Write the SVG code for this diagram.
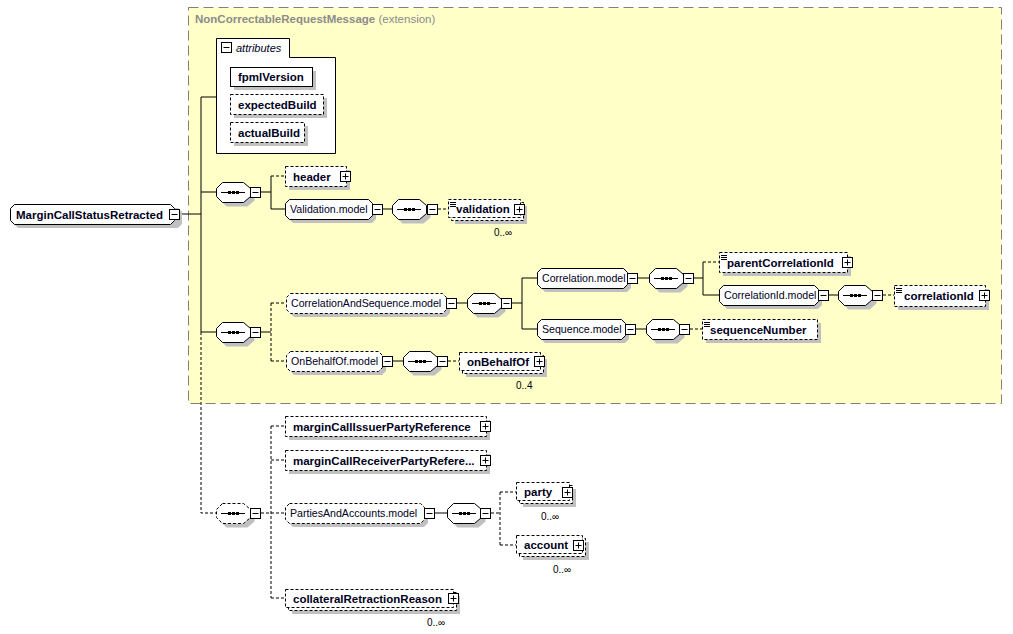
<svg xmlns="http://www.w3.org/2000/svg" xmlns:xlink="http://www.w3.org/1999/xlink" width="1013" height="634" viewBox="0 0 1013 634">
<style>
text{font-family:"Liberation Sans",Arial,sans-serif;fill:#000022}
.el{font-size:11.5px;font-weight:bold}
.md{font-size:10.6px}
.occ{font-size:10px;fill:#000}
.sh{fill:#c0c0c0;stroke:none}
.bx{fill:#fff;stroke:#000;stroke-width:1}
.dash{stroke-dasharray:3,2}
.cn{fill:none;stroke:#000;stroke-width:1}
</style>
<defs>
<g id="minus"><rect x="0.5" y="0.5" width="10" height="10" fill="#fff" stroke="#000"/><path d="M2.5,5.5H8.5" stroke="#000"/></g>
<g id="plus"><rect x="0.5" y="0.5" width="10" height="10" fill="#fff" stroke="#000"/><path d="M2.5,5.5H8.5M5.5,2.5V8.5" stroke="#000"/></g>
<g id="seqicon"><path d="M5,10.5H29" stroke="#000"/><rect x="12" y="9" width="3" height="3" fill="#000"/><rect x="16" y="9" width="3" height="3" fill="#000"/><rect x="20" y="9" width="3" height="3" fill="#000"/></g>
<g id="simple"><path d="M0,0.5H6M0,2.5H6M0,4.5H6" stroke="#000" stroke-width="1"/></g>
<polygon id="seqshape" points="6.5,0.5 27.5,0.5 34.5,6.5 34.5,14.5 27.5,20.5 6.5,20.5 0.5,14.5 0.5,6.5"/>
</defs>

<g id="extension-box">
<rect x="188.5" y="7.5" width="813" height="396" fill="#ffffc8" stroke="#808080" stroke-dasharray="10,5"/>
<text x="195" y="23" style="font-size:11.5px;font-weight:bold;fill:#8c8c8c">NonCorrectableRequestMessage <tspan style="font-weight:normal">(extension)</tspan></text>
</g>

<g id="connectors" class="cn">
<path d="M180,214H201M201,97V332M201,97H216M201,192H216M201,332H216"/>
<path class="dash" d="M201,332V513H216"/>
<path d="M261,192H271M271,176V209M271,209H285"/>
<path class="dash" d="M271,176H285"/>
<path d="M383,209H392"/>
<path class="dash" d="M438,209H448"/>
<path d="M261,332H271"/>
<path class="dash" d="M271,303V361M271,303H286M271,361H286"/>
<path d="M457,303H467M512,303H522M522,278V329M522,278H537M522,329H537"/>
<path d="M638,278H649M694,278H703M703,262V295M703,295H719"/>
<path class="dash" d="M703,262H719"/>
<path d="M829,295H838"/>
<path class="dash" d="M883,295H894"/>
<path d="M636,329H646"/>
<path class="dash" d="M690,329H702"/>
<path d="M393,361H403"/>
<path class="dash" d="M448,361H459"/>
<path class="dash" d="M261,513H271M271,426V598M271,426H285M271,460H285M271,513H285M271,598H285"/>
<path d="M435,513H447"/>
<path class="dash" d="M491,513H500M500,492V545M500,492H516M500,545H516"/>
</g>

<g id="attributes">
<path class="bx" d="M216.5,153.5V38.5H289.5V57.5H335.5V153.5Z"/>
<use xlink:href="#minus" x="221" y="42"/>
<text x="236" y="52" style="font-size:11px;font-style:italic">attributes</text>
</g>
<g id="fpmlVersion">
<rect class="sh" x="234" y="71" width="82" height="19"/>
<rect class="bx" x="230.5" y="67.5" width="82" height="19"/>
<text class="el" x="238" y="81">fpmlVersion</text>
</g>
<g id="expectedBuild">
<rect class="sh" x="234" y="98" width="93" height="20"/>
<rect class="bx dash" x="230.5" y="94.5" width="93" height="20"/>
<text class="el" x="238" y="109">expectedBuild</text>
</g>
<g id="actualBuild">
<rect class="sh" x="234" y="126" width="74" height="20"/>
<rect class="bx dash" x="230.5" y="122.5" width="74" height="20"/>
<text class="el" x="238" y="137">actualBuild</text>
</g>

<g id="MarginCallStatusRetracted">
<polygon class="sh" points="18,208 178,208 182,212 182,224 178,228 18,228 14,224 14,212"/>
<polygon class="bx" points="14.5,204.5 170.5,204.5 174.5,208.5 174.5,220.5 170.5,224.5 14.5,224.5 10.5,220.5 10.5,208.5"/>
<text class="el" x="16" y="219">MarginCallStatusRetracted</text>
<use xlink:href="#minus" x="169" y="209"/>
</g>

<g id="seq1">
<use xlink:href="#seqshape" x="220" y="186" class="sh"/>
<use xlink:href="#seqshape" x="216" y="182" class="bx"/>
<use xlink:href="#seqicon" x="216" y="182"/>
<use xlink:href="#minus" x="250" y="187"/>
</g>
<g id="header">
<rect class="sh" x="289" y="170" width="61" height="20"/>
<rect class="bx dash" x="285.5" y="166.5" width="61" height="20"/>
<text class="el" x="293" y="181">header</text>
<use xlink:href="#plus" x="340" y="171"/>
</g>
<g id="Validation.model">
<polygon class="sh" points="293,203 372,203 376,207 376,219 372,223 293,223 289,219 289,207"/>
<polygon class="bx" points="289.5,199.5 368.5,199.5 372.5,203.5 372.5,215.5 368.5,219.5 289.5,219.5 285.5,215.5 285.5,203.5"/>
<text class="md" x="290" y="213">Validation.model</text>
<use xlink:href="#minus" x="372" y="204"/>
</g>
<g id="seq-validation">
<use xlink:href="#seqshape" x="396" y="203" class="sh"/>
<use xlink:href="#seqshape" x="392" y="199" class="bx"/>
<use xlink:href="#seqicon" x="392" y="199"/>
<use xlink:href="#minus" x="427" y="204"/>
</g>
<g id="validation">
<rect class="sh" x="455" y="206" width="72" height="18"/>
<rect class="bx dash" x="451.5" y="202.5" width="72" height="18"/>
<rect class="bx dash" x="448.5" y="199.5" width="72" height="18"/>
<use xlink:href="#simple" x="450" y="202"/>
<text class="el" x="456" y="213">validation</text>
<use xlink:href="#plus" x="514" y="204"/>
<text class="occ" x="494" y="236">0..∞</text>
</g>

<g id="seq2">
<use xlink:href="#seqshape" x="220" y="326" class="sh"/>
<use xlink:href="#seqshape" x="216" y="322" class="bx"/>
<use xlink:href="#seqicon" x="216" y="322"/>
<use xlink:href="#minus" x="250" y="327"/>
</g>
<g id="CorrelationAndSequence.model">
<polygon class="sh" points="294,297 446,297 450,301 450,313 446,317 294,317 290,313 290,301"/>
<polygon class="bx dash" points="290.5,293.5 442.5,293.5 446.5,297.5 446.5,309.5 442.5,313.5 290.5,313.5 286.5,309.5 286.5,297.5"/>
<text class="md" x="291" y="307">CorrelationAndSequence.model</text>
<use xlink:href="#minus" x="446" y="298"/>
</g>
<g id="seq-cas">
<use xlink:href="#seqshape" x="471" y="297" class="sh"/>
<use xlink:href="#seqshape" x="467" y="293" class="bx"/>
<use xlink:href="#seqicon" x="467" y="293"/>
<use xlink:href="#minus" x="501" y="298"/>
</g>
<g id="Correlation.model">
<polygon class="sh" points="545,272 627,272 631,276 631,288 627,292 545,292 541,288 541,276"/>
<polygon class="bx" points="541.5,268.5 623.5,268.5 627.5,272.5 627.5,284.5 623.5,288.5 541.5,288.5 537.5,284.5 537.5,272.5"/>
<text class="md" x="542" y="282">Correlation.model</text>
<use xlink:href="#minus" x="627" y="273"/>
</g>
<g id="seq-corr">
<use xlink:href="#seqshape" x="653" y="272" class="sh"/>
<use xlink:href="#seqshape" x="649" y="268" class="bx"/>
<use xlink:href="#seqicon" x="649" y="268"/>
<use xlink:href="#minus" x="683" y="273"/>
</g>
<g id="parentCorrelationId">
<rect class="sh" x="723" y="256" width="128" height="20"/>
<rect class="bx dash" x="719.5" y="252.5" width="128" height="20"/>
<use xlink:href="#simple" x="721" y="255"/>
<text class="el" x="727" y="267">parentCorrelationId</text>
<use xlink:href="#plus" x="842" y="257"/>
</g>
<g id="CorrelationId.model">
<polygon class="sh" points="727,289 818,289 822,293 822,305 818,309 727,309 723,305 723,293"/>
<polygon class="bx" points="723.5,285.5 814.5,285.5 818.5,289.5 818.5,301.5 814.5,305.5 723.5,305.5 719.5,301.5 719.5,289.5"/>
<text class="md" x="724" y="299">CorrelationId.model</text>
<use xlink:href="#minus" x="818" y="290"/>
</g>
<g id="seq-corrid">
<use xlink:href="#seqshape" x="842" y="289" class="sh"/>
<use xlink:href="#seqshape" x="838" y="285" class="bx"/>
<use xlink:href="#seqicon" x="838" y="285"/>
<use xlink:href="#minus" x="872" y="290"/>
</g>
<g id="correlationId">
<rect class="sh" x="898" y="289" width="91" height="21"/>
<rect class="bx dash" x="894.5" y="285.5" width="91" height="21"/>
<use xlink:href="#simple" x="896" y="288"/>
<text class="el" x="904" y="300">correlationId</text>
<use xlink:href="#plus" x="979" y="290"/>
</g>
<g id="Sequence.model">
<polygon class="sh" points="545,323 625,323 629,327 629,339 625,343 545,343 541,339 541,327"/>
<polygon class="bx" points="541.5,319.5 621.5,319.5 625.5,323.5 625.5,335.5 621.5,339.5 541.5,339.5 537.5,335.5 537.5,323.5"/>
<text class="md" x="542" y="333">Sequence.model</text>
<use xlink:href="#minus" x="625" y="324"/>
</g>
<g id="seq-seqmodel">
<use xlink:href="#seqshape" x="650" y="323" class="sh"/>
<use xlink:href="#seqshape" x="646" y="319" class="bx"/>
<use xlink:href="#seqicon" x="646" y="319"/>
<use xlink:href="#minus" x="679" y="324"/>
</g>
<g id="sequenceNumber">
<rect class="sh" x="706" y="323" width="115" height="20"/>
<rect class="bx dash" x="702.5" y="319.5" width="115" height="20"/>
<use xlink:href="#simple" x="704" y="322"/>
<text class="el" x="710" y="334">sequenceNumber</text>
</g>
<g id="OnBehalfOf.model">
<polygon class="sh" points="294,355 382,355 386,359 386,371 382,375 294,375 290,371 290,359"/>
<polygon class="bx dash" points="290.5,351.5 378.5,351.5 382.5,355.5 382.5,367.5 378.5,371.5 290.5,371.5 286.5,367.5 286.5,355.5"/>
<text class="md" x="291" y="365">OnBehalfOf.model</text>
<use xlink:href="#minus" x="382" y="356"/>
</g>
<g id="seq-obo">
<use xlink:href="#seqshape" x="407" y="355" class="sh"/>
<use xlink:href="#seqshape" x="403" y="351" class="bx"/>
<use xlink:href="#seqicon" x="403" y="351"/>
<use xlink:href="#minus" x="437" y="356"/>
</g>
<g id="onBehalfOf">
<rect class="sh" x="466" y="359" width="81" height="18"/>
<rect class="bx dash" x="462.5" y="355.5" width="81" height="18"/>
<rect class="bx dash" x="459.5" y="352.5" width="81" height="18"/>
<text class="el" x="467" y="366">onBehalfOf</text>
<use xlink:href="#plus" x="534" y="356"/>
<text class="occ" x="516" y="389">0..4</text>
</g>

<g id="seq3">
<use xlink:href="#seqshape" x="220" y="507" class="sh"/>
<use xlink:href="#seqshape" x="216" y="503" class="bx dash"/>
<use xlink:href="#seqicon" x="216" y="503"/>
<use xlink:href="#minus" x="250" y="508"/>
</g>
<g id="marginCallIssuerPartyReference">
<rect class="sh" x="289" y="420" width="201" height="20"/>
<rect class="bx dash" x="285.5" y="416.5" width="201" height="20"/>
<text class="el" x="293" y="431">marginCallIssuerPartyReference</text>
<use xlink:href="#plus" x="480" y="421"/>
</g>
<g id="marginCallReceiverPartyReference">
<rect class="sh" x="289" y="454" width="201" height="20"/>
<rect class="bx dash" x="285.5" y="450.5" width="201" height="20"/>
<text class="el" x="293" y="465">marginCallReceiverPartyRefere...</text>
<use xlink:href="#plus" x="480" y="455"/>
</g>
<g id="PartiesAndAccounts.model">
<polygon class="sh" points="293,507 424,507 428,511 428,523 424,527 293,527 289,523 289,511"/>
<polygon class="bx dash" points="289.5,503.5 420.5,503.5 424.5,507.5 424.5,519.5 420.5,523.5 289.5,523.5 285.5,519.5 285.5,507.5"/>
<text class="md" x="290" y="517">PartiesAndAccounts.model</text>
<use xlink:href="#minus" x="424" y="508"/>
</g>
<g id="seq-pa">
<use xlink:href="#seqshape" x="451" y="507" class="sh"/>
<use xlink:href="#seqshape" x="447" y="503" class="bx"/>
<use xlink:href="#seqicon" x="447" y="503"/>
<use xlink:href="#minus" x="480" y="508"/>
</g>
<g id="party">
<rect class="sh" x="523" y="489" width="53" height="18"/>
<rect class="bx dash" x="519.5" y="485.5" width="53" height="18"/>
<rect class="bx dash" x="516.5" y="482.5" width="53" height="18"/>
<text class="el" x="524" y="496">party</text>
<use xlink:href="#plus" x="562" y="487"/>
<text class="occ" x="541" y="520">0..∞</text>
</g>
<g id="account">
<rect class="sh" x="523" y="542" width="66" height="18"/>
<rect class="bx dash" x="519.5" y="538.5" width="66" height="18"/>
<rect class="bx dash" x="516.5" y="535.5" width="66" height="18"/>
<text class="el" x="524" y="549">account</text>
<use xlink:href="#plus" x="573" y="540"/>
<text class="occ" x="553" y="573">0..∞</text>
</g>
<g id="collateralRetractionReason">
<rect class="sh" x="292" y="596" width="168" height="18"/>
<rect class="bx dash" x="288.5" y="592.5" width="168" height="18"/>
<rect class="bx dash" x="285.5" y="589.5" width="168" height="18"/>
<text class="el" x="293" y="603">collateralRetractionReason</text>
<use xlink:href="#plus" x="448" y="593"/>
<text class="occ" x="427" y="626">0..∞</text>
</g>
</svg>
